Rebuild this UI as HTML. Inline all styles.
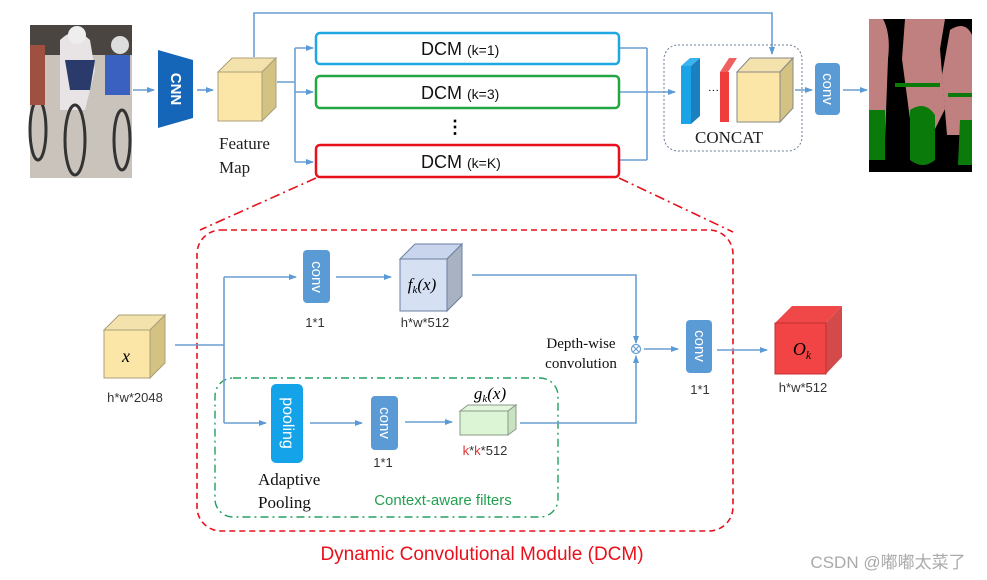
<!DOCTYPE html>
<html><head><meta charset="utf-8"><style>
body{margin:0;background:#fff}
svg{display:block}
.s{font-family:"Liberation Sans","Noto Sans CJK SC",sans-serif}
.r{font-family:"Liberation Serif",serif}
</style></head><body>
<svg width="987" height="580" viewBox="0 0 987 580" xmlns="http://www.w3.org/2000/svg">
<defs>
<marker id="a" markerWidth="8" markerHeight="8" refX="7" refY="4" orient="auto" markerUnits="userSpaceOnUse"><path d="M0,1 L8,4 L0,7 Z" fill="#5b9bd5"/></marker>
</defs>
<rect x="30" y="25" width="102" height="153" fill="#c9c3bb"/>
<rect x="30" y="25" width="102" height="30" fill="#4a4540"/>
<path d="M60,40 q15,-15 30,0 l5,30 l-10,40 l-25,0 z" fill="#e8e4e6"/>
<path d="M65,60 l30,0 l-5,30 l-20,0z" fill="#2a3a6a"/>
<circle cx="77" cy="35" r="9" fill="#eee"/>
<circle cx="120" cy="45" r="9" fill="#ddd"/>
<path d="M105,55 l25,0 l0,40 l-25,0z" fill="#3a60c0"/>
<ellipse cx="75" cy="140" rx="10" ry="35" fill="none" stroke="#333" stroke-width="3"/>
<ellipse cx="122" cy="140" rx="8" ry="30" fill="none" stroke="#333" stroke-width="3"/>
<ellipse cx="38" cy="130" rx="8" ry="30" fill="none" stroke="#333" stroke-width="3"/>
<path d="M30,45 l15,0 l0,60 l-15,0z" fill="#a05040"/>
<rect x="869" y="19" width="103" height="153" fill="#000"/>
<path d="M869,19 h14 q8,15 5,40 l-3,80 h-16z" fill="#c08080"/>
<path d="M905,19 h40 l-5,30 l5,60 l-10,20 l-25,-10 l-8,-60 z" fill="#c08080"/>
<path d="M950,30 q15,-10 22,5 v100 h-25 l-5,-60z" fill="#c08080"/>
<path d="M869,110 h16 v50 h-16z" fill="#0a7a0a"/>
<path d="M910,110 q15,-10 25,5 v45 q-12,10 -25,0z" fill="#0a7a0a"/>
<path d="M960,120 h12 v45 h-14z" fill="#0a7a0a"/>
<path d="M895,85 h45" stroke="#0a7a0a" stroke-width="4"/>
<path d="M948,95 h24" stroke="#0a7a0a" stroke-width="4"/>
<path d="M158,50 L193,60 L193,118 L158,128 Z" fill="#1565b8"/>
<text x="175" y="89" transform="rotate(90 175 89)" text-anchor="middle" dominant-baseline="middle" class="s" font-weight="bold" font-size="15" fill="#fff">CNN</text>
<path d="M218,72 L232,58 L276,58 L262,72Z" fill="#f3e2ab" stroke="#a8a07a"/>
<path d="M262,72 L276,58 L276,107 L262,121Z" fill="#d4c283" stroke="#a8a07a"/>
<rect x="218" y="72" width="44" height="49" fill="#fbe6a8" stroke="#a8a07a"/>
<text x="219" y="149" class="r" font-size="17" fill="#222">Feature</text>
<text x="219" y="173" class="r" font-size="17" fill="#222">Map</text>
<g stroke="#6a9fd4" stroke-width="1.6" fill="none">
<path d="M133,90 H154" marker-end="url(#a)"/>
<path d="M197,90 H213" marker-end="url(#a)"/>
<path d="M277,82 H295"/>
<path d="M295,48 V162"/>
<path d="M295,48 H313" marker-end="url(#a)"/>
<path d="M295,92 H313" marker-end="url(#a)"/>
<path d="M295,162 H313" marker-end="url(#a)"/>
<path d="M254,57 V13 H772 V54" marker-end="url(#a)"/>
<path d="M620,48 H647 M620,92 H647 M620,160 H647 M647,48 V160"/>
<path d="M647,92 H675" marker-end="url(#a)"/>
<path d="M795,90 H812" marker-end="url(#a)"/>
<path d="M843,90 H867" marker-end="url(#a)"/>
</g>
<rect x="316" y="33" width="303" height="31" rx="4" fill="#fff" stroke="#1fa7e1" stroke-width="2.5"/>
<rect x="316" y="76" width="303" height="32" rx="4" fill="#fff" stroke="#22a745" stroke-width="2.5"/>
<rect x="316" y="145" width="303" height="32" rx="4" fill="#fff" stroke="#e8111b" stroke-width="2.5"/>
<g class="s" fill="#111"><text x="421" y="55" font-size="18">DCM <tspan font-size="14">(k=1)</tspan></text>
<text x="421" y="99" font-size="18">DCM <tspan font-size="14">(k=3)</tspan></text>
<text x="421" y="168" font-size="18">DCM <tspan font-size="14">(k=K)</tspan></text></g>
<text x="455" y="133" text-anchor="middle" font-size="18" class="s" font-weight="bold">⋮</text>
<rect x="664" y="45" width="138" height="106" rx="14" fill="none" stroke="#6b7f99" stroke-dasharray="2,2"/>
<path d="M681,66 L690,58 L700,58 L691,66Z" fill="#39b3ee"/>
<path d="M691,66 L700,58 L700,116 L691,124Z" fill="#1a80c0"/>
<rect x="681" y="66" width="10" height="58" fill="#1ba3e8"/>
<path d="M720,72 L729,58 L737,58 L728,72Z" fill="#f06060"/>
<rect x="720" y="72" width="9" height="50" fill="#ef3c3c"/>
<text x="708" y="94" font-size="11">···</text>
<path d="M737,72 L750,58 L793,58 L780,72Z" fill="#f3e2ab" stroke="#888"/>
<path d="M780,72 L793,58 L793,108 L780,122Z" fill="#d4c283" stroke="#888"/>
<rect x="737" y="72" width="43" height="50" fill="#fbe6a8" stroke="#888"/>
<text x="729" y="143" text-anchor="middle" class="r" font-size="17" fill="#222">CONCAT</text>
<rect x="815" y="63" width="25" height="52" rx="4" fill="#5b9bd5"/>
<text x="827" y="89" transform="rotate(90 827 89)" text-anchor="middle" dominant-baseline="middle" class="s" font-size="15" fill="#fff">conv</text>
<g stroke="#e8111b" stroke-width="1.6" fill="none" stroke-dasharray="10,4,2,4">
<path d="M316,178 L200,230"/><path d="M619,178 L733,232"/>
</g>
<rect x="197" y="230" width="536" height="301" rx="24" fill="none" stroke="#e8111b" stroke-width="1.6" stroke-dasharray="6,4"/>
<rect x="215" y="378" width="343" height="139" rx="18" fill="none" stroke="#22a060" stroke-width="1.4" stroke-dasharray="8,4,2,4"/>
<path d="M104,330 L119,315 L165,315 L150,330Z" fill="#f3e2ab" stroke="#a8a07a"/>
<path d="M150,330 L165,315 L165,363 L150,378Z" fill="#d4c283" stroke="#a8a07a"/>
<rect x="104" y="330" width="46" height="48" fill="#fbe6a8" stroke="#a8a07a"/>
<text x="126" y="362" text-anchor="middle" class="r" font-style="italic" font-size="18">x</text>
<text x="135" y="402" text-anchor="middle" class="s" font-size="13" fill="#333">h*w*2048</text>
<g stroke="#6a9fd4" stroke-width="1.6" fill="none">
<path d="M175,345 H224 M224,277 V423"/>
<path d="M224,277 H296" marker-end="url(#a)"/>
<path d="M224,423 H266" marker-end="url(#a)"/>
<path d="M336,277 H391" marker-end="url(#a)"/>
<path d="M472,275 H636 V343" marker-end="url(#a)"/>
<path d="M520,423 H636 V356" marker-end="url(#a)"/>
<path d="M310,423 H362" marker-end="url(#a)"/>
<path d="M405,422 H452" marker-end="url(#a)"/>
<path d="M644,349 H678" marker-end="url(#a)"/>
<path d="M717,350 H767" marker-end="url(#a)"/>
</g>
<circle cx="636" cy="349" r="4.5" fill="#fff" stroke="#6a9fd4" stroke-width="1.2"/>
<path d="M633,346 L639,352 M639,346 L633,352" stroke="#6a9fd4" stroke-width="1.2"/>
<rect x="303" y="250" width="27" height="53" rx="4" fill="#5b9bd5"/>
<text x="316" y="277" transform="rotate(90 316 277)" text-anchor="middle" dominant-baseline="middle" class="s" font-size="15" fill="#fff">conv</text>
<text x="315" y="327" text-anchor="middle" class="s" font-size="13" fill="#333">1*1</text>
<path d="M400,259 L415,244 L462,244 L447,259Z" fill="#c8d5ec" stroke="#6a7fa0"/>
<path d="M447,259 L462,244 L462,296 L447,311Z" fill="#a9b2c2" stroke="#6a7fa0"/>
<rect x="400" y="259" width="47" height="52" fill="#d6e0f3" stroke="#6a7fa0"/>
<text x="422" y="290" text-anchor="middle" class="r" font-style="italic" font-size="17">f<tspan font-size="11" dy="3">k</tspan><tspan dy="-3">(x)</tspan></text>
<text x="425" y="327" text-anchor="middle" class="s" font-size="13" fill="#333">h*w*512</text>
<text x="581" y="348" text-anchor="middle" class="r" font-size="15" fill="#111">Depth-wise</text>
<text x="581" y="368" text-anchor="middle" class="r" font-size="15" fill="#111">convolution</text>
<rect x="686" y="320" width="26" height="53" rx="4" fill="#5b9bd5"/>
<text x="699" y="346" transform="rotate(90 699 346)" text-anchor="middle" dominant-baseline="middle" class="s" font-size="15" fill="#fff">conv</text>
<text x="700" y="394" text-anchor="middle" class="s" font-size="13" fill="#333">1*1</text>
<path d="M775,323 L792,306 L842,306 L826,323Z" fill="#f04848"/>
<path d="M826,323 L842,306 L842,357 L826,374Z" fill="#d44a4a"/>
<rect x="775" y="323" width="51" height="51" fill="#f24444" stroke="#c03030"/>
<text x="802" y="355" text-anchor="middle" class="r" font-style="italic" font-size="18">O<tspan font-size="12" dy="4">k</tspan></text>
<text x="803" y="392" text-anchor="middle" class="s" font-size="13" fill="#333">h*w*512</text>
<rect x="271" y="384" width="32" height="79" rx="5" fill="#14a3e8"/>
<text x="287" y="423" transform="rotate(90 287 423)" text-anchor="middle" dominant-baseline="middle" class="s" font-size="16" fill="#fff">pooling</text>
<rect x="371" y="396" width="27" height="54" rx="4" fill="#5b9bd5"/>
<text x="384" y="423" transform="rotate(90 384 423)" text-anchor="middle" dominant-baseline="middle" class="s" font-size="15" fill="#fff">conv</text>
<text x="383" y="467" text-anchor="middle" class="s" font-size="13" fill="#333">1*1</text>
<path d="M460,411 L468,405 L516,405 L508,411Z" fill="#e3f5dc" stroke="#8a9a88"/>
<path d="M508,411 L516,405 L516,429 L508,435Z" fill="#c9e2c2" stroke="#8a9a88"/>
<rect x="460" y="411" width="48" height="24" fill="#dcf5d4" stroke="#8a9a88"/>
<text x="490" y="399" text-anchor="middle" class="r" font-style="italic" font-size="17">g<tspan font-size="11" dy="3">k</tspan><tspan dy="-3">(x)</tspan></text>
<text x="485" y="455" text-anchor="middle" class="s" font-size="13" fill="#333"><tspan fill="#e03030">k</tspan>*<tspan fill="#e03030">k</tspan>*512</text>
<text x="258" y="485" class="r" font-size="17" fill="#111">Adaptive</text>
<text x="258" y="508" class="r" font-size="17" fill="#111">Pooling</text>
<text x="443" y="505" text-anchor="middle" class="s" font-size="15" fill="#22a050">Context-aware filters</text>
<text x="482" y="560" text-anchor="middle" class="s" font-size="19" fill="#e8111b">Dynamic Convolutional Module (DCM)</text>
<text x="888" y="568" text-anchor="middle" class="s" font-size="17" fill="#aaa">CSDN @嘟嘟太菜了</text>
</svg>
</body></html>
